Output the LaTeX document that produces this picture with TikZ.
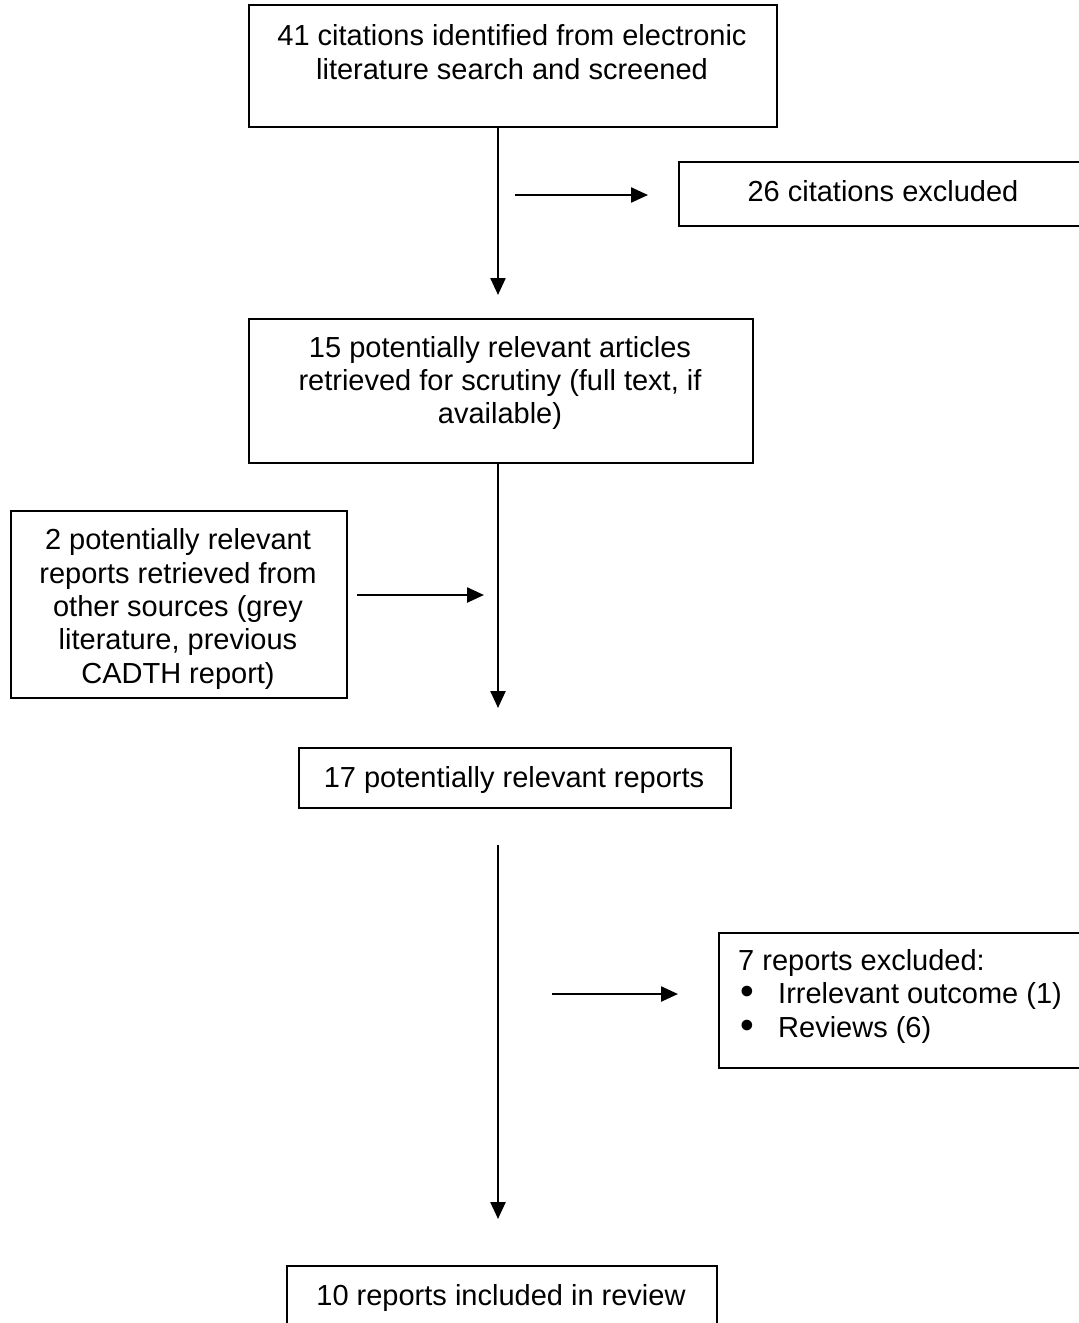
\documentclass[tikz,border=0pt]{standalone}
\usepackage{fontspec}
\setmainfont{Liberation Sans}
\usetikzlibrary{arrows.meta}
\newcommand{\mybul}{\makebox[40pt][l]{\hspace{2pt}\smash{\raisebox{-1pt}{\scalebox{1.35}{•}}}}}
\begin{document}
\begin{tikzpicture}[x=1pt,y=-1pt,
  box/.style={draw=black,line width=2pt,rectangle,inner sep=0pt,anchor=north west},
  txt/.style={align=center,font=\fontsize{29}{33.4}\selectfont,inner sep=0pt},
  arr/.style={line width=2.4pt,-{Triangle[length=17pt,width=15pt]}}]
\useasboundingbox (0,0) rectangle (1079,1323);
% boxes
\node[box,minimum width=528pt,minimum height=122pt] (b1) at (248,4) {};
\node[txt] (t1) at (512,52) {41 citations identified from electronic\\literature search and screened};
\node[box,minimum width=420pt,minimum height=64pt] (ex1) at (678,161) {};
\node[txt] (tex1) at (883,191) {26 citations excluded};
\node[box,minimum width=504pt,minimum height=144pt] (b2) at (248,318) {};
\node[txt] (t2) at (500,383) {15 potentially relevant articles\\retrieved for scrutiny (full text, if\\available)};
\node[box,minimum width=336pt,minimum height=187pt] (oth) at (10,510) {};
\node[txt] (toth) at (178,609) {2 potentially relevant\\reports retrieved from\\other sources (grey\\literature, previous\\CADTH report)};
\node[box,minimum width=432pt,minimum height=60pt] (b3) at (298,747) {};
\node[txt] (t3) at (514,780) {17 potentially relevant reports};
\node[box,minimum width=380pt,minimum height=135pt] (ex2) at (718,932) {};
\node[txt,align=left,anchor=north west] (tex2) at (738,949) {7 reports excluded:\\[0pt]
  \mybul Irrelevant outcome (1)\\
  \mybul Reviews (6)};
\node[box,minimum width=430pt,minimum height=80pt] (b4) at (286,1265) {};
\node[txt] (t4) at (501,1298) {10 reports included in review};
% connector ends
\coordinate (a1s) at (b1.south -| 498,0);
\coordinate (a1e) at (498,295);
\coordinate (h1s) at (515,195);
\coordinate (h1e) at (648,195);
\coordinate (a2s) at (b2.south -| 498,0);
\coordinate (a2e) at (498,708);
\coordinate (h2s) at (357,595);
\coordinate (h2e) at (484,595);
\coordinate (a3s) at (498,845);
\coordinate (a3e) at (498,1219);
\coordinate (h3s) at (552,994);
\coordinate (h3e) at (678,994);
\draw[arr] (a1s) -- (a1e);
\draw[arr] (h1s) -- (h1e);
\draw[arr] (a2s) -- (a2e);
\draw[arr] (h2s) -- (h2e);
\draw[arr] (a3s) -- (a3e);
\draw[arr] (h3s) -- (h3e);
\end{tikzpicture}
\end{document}
